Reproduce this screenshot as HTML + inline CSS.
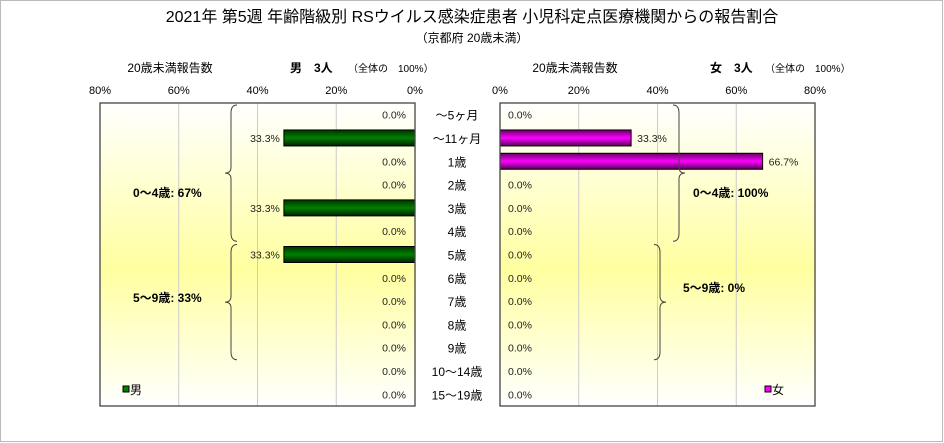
<!DOCTYPE html>
<html><head><meta charset="utf-8"><style>
body{margin:0;background:#fff;}
svg{display:block;font-family:"Liberation Sans","Noto Sans CJK JP",sans-serif;}
</style></head><body>
<svg id="c" width="944" height="443" xmlns="http://www.w3.org/2000/svg">
<defs>
<linearGradient id="bg" x1="0" y1="0" x2="0" y2="1">
<stop offset="0" stop-color="#ffffff"/><stop offset="0.55" stop-color="#ffffa0"/><stop offset="1" stop-color="#ffffff"/>
</linearGradient>
<linearGradient id="gm" x1="0" y1="0" x2="0" y2="1">
<stop offset="0" stop-color="#003300"/><stop offset="0.5" stop-color="#008000"/><stop offset="1" stop-color="#002200"/>
</linearGradient>
<linearGradient id="gf" x1="0" y1="0" x2="0" y2="1">
<stop offset="0" stop-color="#660066"/><stop offset="0.5" stop-color="#ff00ff"/><stop offset="1" stop-color="#550055"/>
</linearGradient>
</defs>
<rect x="0.5" y="0.5" width="942" height="441" fill="none" stroke="#bbb"/>
<text x="472" y="22" font-size="16" text-anchor="middle">2021年 第5週 年齢階級別 RSウイルス感染症患者 小児科定点医療機関からの報告割合</text>
<text x="472" y="42" font-size="12" text-anchor="middle">（京都府 20歳未満）</text>
<text x="170" y="72" font-size="12" text-anchor="middle">20歳未満報告数</text>
<text x="290" y="72" font-size="12" font-weight="bold">男　3人</text>
<text x="348" y="72" font-size="10">（全体の　100%）</text>
<text x="575" y="72" font-size="12" text-anchor="middle">20歳未満報告数</text>
<text x="710" y="72" font-size="12" font-weight="bold">女　3人</text>
<text x="765" y="72" font-size="10">（全体の　100%）</text>
<g id="g"></g>
</svg>
<script>
const categories=["～5ヶ月","～11ヶ月","1歳","2歳","3歳","4歳","5歳","6歳","7歳","8歳","9歳","10～14歳","15～19歳"];
const maleValues=[0,33.3,0,0,33.3,0,33.3,0,0,0,0,0,0];
const femaleValues=[0,33.3,66.7,0,0,0,0,0,0,0,0,0,0];
const tickLabels=[0,20,40,60,80];
const NS="http://www.w3.org/2000/svg";
const g=document.getElementById('g');
function el(t,a,txt){const e=document.createElementNS(NS,t);for(const k in a)e.setAttribute(k,a[k]);if(txt!==undefined)e.textContent=txt;g.appendChild(e);return e;}
const yTop=103,yBot=406,n=categories.length,rh=(yBot-yTop)/n;
const L0=415,R0=500,sc=315/80;
const xl=v=>L0-v*sc, xr=v=>R0+v*sc, yc=i=>yTop+rh*(i+0.5);
let e;
e=el('rect',{x:100,y:yTop,width:315,height:yBot-yTop,fill:'url(#bg)',stroke:'none'});

e=el('rect',{x:R0,y:yTop,width:315,height:yBot-yTop,fill:'url(#bg)',stroke:'none'});

tickLabels.forEach(t=>{
  if(t>0&&t<80){
    e=el('line',{x1:xl(t),x2:xl(t),y1:yTop,y2:yBot,stroke:'#ccc'});
    
    e=el('line',{x1:xr(t),x2:xr(t),y1:yTop,y2:yBot,stroke:'#ccc'});
    
  }
  e=el('text',{x:xl(t),y:94,'font-size':11,'text-anchor':'middle',fill:'#000'},t+'%');
  
  e=el('text',{x:xr(t),y:94,'font-size':11,'text-anchor':'middle',fill:'#000'},t+'%');
  
});
categories.forEach((c,i)=>{
  const y=yc(i);
  e=el('text',{x:457,y:y+5,'font-size':12,'text-anchor':'middle'},c);
  
  const m=maleValues[i],f=femaleValues[i];
  if(m>0){e=el('rect',{x:xl(m),y:y-8,width:m*sc,height:16,fill:'url(#gm)',stroke:'#000'});
    }
  e=el('text',{x:m>0?xl(m)-4:L0-9,y:y+4,'font-size':10.5,'text-anchor':'end',fill:'#222'},m.toFixed(1)+'%');
  
  if(f>0){e=el('rect',{x:R0,y:y-8,width:f*sc,height:16,fill:'url(#gf)',stroke:'#000'});
    }
  e=el('text',{x:f>0?xr(f)+6:R0+8,y:y+4,'font-size':10.5,'text-anchor':'start',fill:'#222'},f.toFixed(1)+'%');
  
});
e=el('rect',{x:100,y:yTop,width:315,height:yBot-yTop,fill:'none',stroke:'#444','stroke-width':1.3});

e=el('rect',{x:R0,y:yTop,width:315,height:yBot-yTop,fill:'none',stroke:'#444','stroke-width':1.3});

function brace(x,y1,y2,dir){const m=(y1+y2)/2,d=dir*6;
  return `M${x-d},${y1} Q${x},${y1} ${x},${y1+8} L${x},${m-6} Q${x},${m} ${x+d},${m} Q${x},${m} ${x},${m+6} L${x},${y2-8} Q${x},${y2} ${x-d},${y2}`;}
e=el('path',{d:brace(231,yTop+2,yc(5)+10,-1),fill:'none',stroke:'#444'});

e=el('path',{d:brace(231,yc(6)-10,yc(10)+12,-1),fill:'none',stroke:'#444'});

e=el('path',{d:brace(679,yTop+2,yc(5)+10,1),fill:'none',stroke:'#444'});

e=el('path',{d:brace(660,yc(6)-10,yc(10)+12,1),fill:'none',stroke:'#444'});

e=el('text',{x:133,y:197,'font-size':12,'font-weight':'bold'},'0～4歳: 67%');

e=el('text',{x:133,y:302,'font-size':12,'font-weight':'bold'},'5～9歳: 33%');

e=el('text',{x:693,y:197,'font-size':12,'font-weight':'bold'},'0～4歳: 100%');

e=el('text',{x:683,y:292,'font-size':12,'font-weight':'bold'},'5～9歳: 0%');

e=el('rect',{x:123,y:386,width:6,height:6,fill:'#008000',stroke:'#000'});

e=el('text',{x:130,y:394,'font-size':12},'男');

e=el('rect',{x:765,y:386,width:6,height:6,fill:'#ff00ff',stroke:'#000'});

e=el('text',{x:772,y:394,'font-size':12},'女');

</script>
</body></html>
